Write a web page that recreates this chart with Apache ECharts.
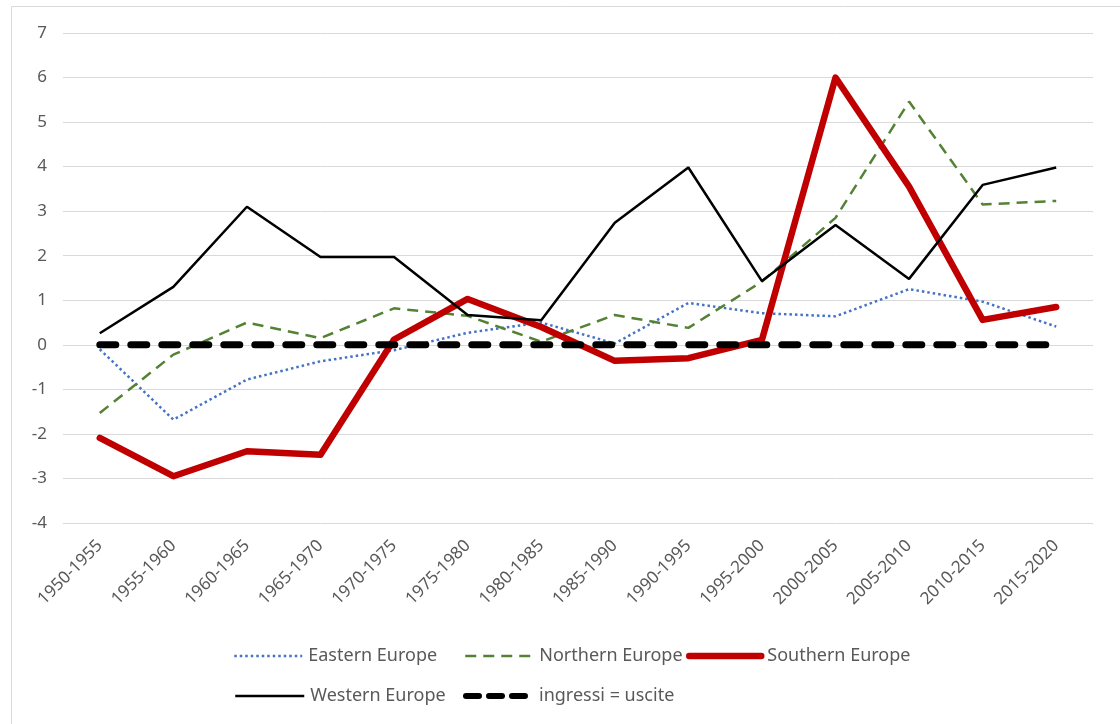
<!DOCTYPE html>
<html>
<head>
<meta charset="utf-8">
<script src="https://cdn.jsdelivr.net/npm/echarts@6/dist/echarts.min.js"></script>
<style>html,body{margin:0;padding:0;background:#fff;}#c{width:1120px;height:724px;}</style>
</head>
<body>
<div id="c"></div>
<script>
const categories = ['1950-1955','1955-1960','1960-1965','1965-1970','1970-1975','1975-1980','1980-1985','1985-1990','1990-1995','1995-2000','2000-2005','2005-2010','2010-2015','2015-2020'];
const eastern  = [-0.10, -1.68, -0.78, -0.37, -0.12, 0.27, 0.50, 0.03, 0.94, 0.71, 0.64, 1.25, 0.97, 0.41];
const northern = [-1.53, -0.22, 0.50, 0.15, 0.82, 0.65, 0.07, 0.67, 0.38, 1.42, 2.85, 5.46, 3.15, 3.23];
const southern = [-2.09, -2.95, -2.39, -2.47, 0.12, 1.03, 0.40, -0.36, -0.30, 0.11, 6.00, 3.55, 0.56, 0.85];
const western  = [0.26, 1.30, 3.10, 1.97, 1.97, 0.67, 0.55, 2.74, 3.98, 1.43, 2.69, 1.48, 3.59, 3.98];
const balance  = [0, 0, 0, 0, 0, 0, 0, 0, 0, 0, 0, 0, 0, 0];
const seriesNames = ['Eastern Europe', 'Northern Europe', 'Southern Europe', 'Western Europe', 'ingressi = uscite'];

const FONT = 'Noto Sans';
const TXT = '#595959';
const chart = echarts.init(document.getElementById('c'), null, {renderer: 'canvas'});

function legendAt(name, left, top, width, lineStyle) {
  return {
    data: [name], left: left, top: top, orient: 'horizontal',
    itemWidth: width, itemHeight: 14, itemGap: 0, padding: 0,
    itemStyle: {opacity: 0},
    lineStyle: lineStyle,
    textStyle: {fontFamily: FONT, fontSize: 18, color: TXT, padding: [0, 0, 0, 1]},
    selectedMode: false
  };
}

chart.setOption({
  animation: false,
  backgroundColor: '#fff',
  graphic: [{
    type: 'rect', silent: true, z: -10,
    shape: {x: 11.5, y: 6.5, width: 1200, height: 800},
    style: {fill: 'none', stroke: '#D9D9D9', lineWidth: 1}
  }],
  grid: {left: 63, right: 27, top: 33, bottom: 201, containLabel: false},
  legend: [
    legendAt(seriesNames[0], 233, 647, 68, {width: 2.5, type: [2.5, 3]}),
    legendAt(seriesNames[1], 464, 647, 68, {width: 2.5, type: [11, 7]}),
    legendAt(seriesNames[2], 686, 647, 72, {width: 6.5, cap: 'round'}),
    legendAt(seriesNames[3], 234, 687, 69, {width: 2.5}),
    legendAt(seriesNames[4], 463, 687, 67, {width: 6, type: [13, 10], cap: 'round'})
  ],
  xAxis: {
    type: 'category', data: categories, boundaryGap: true,
    axisLine: {show: false}, axisTick: {show: false},
    axisLabel: {rotate: 45, margin: 20, interval: 0, fontFamily: FONT, fontSize: 17, color: TXT}
  },
  yAxis: {
    type: 'value', min: -4, max: 7, interval: 1,
    axisLine: {show: false}, axisTick: {show: false},
    splitLine: {lineStyle: {color: '#D9D9D9', width: 1}},
    axisLabel: {margin: 16, fontFamily: FONT, fontSize: 17, color: TXT}
  },
  series: [
    {name: seriesNames[0], type: 'line', data: eastern, symbol: 'none',
     lineStyle: {color: '#4472C4', width: 2.5, type: [2.5, 3], cap: 'butt'}, itemStyle: {color: '#4472C4'}},
    {name: seriesNames[1], type: 'line', data: northern, symbol: 'none',
     lineStyle: {color: '#548235', width: 2.5, type: [11, 7]}, itemStyle: {color: '#548235'}},
    {name: seriesNames[2], type: 'line', data: southern, symbol: 'none',
     lineStyle: {color: '#C00000', width: 6.5, cap: 'round', join: 'round'}, itemStyle: {color: '#C00000'}},
    {name: seriesNames[3], type: 'line', data: western, symbol: 'none',
     lineStyle: {color: '#000000', width: 2.5}, itemStyle: {color: '#000000'}},
    {name: seriesNames[4], type: 'line', data: balance, symbol: 'none',
     lineStyle: {color: '#000000', width: 7, type: [16, 15], cap: 'round'}, itemStyle: {color: '#000000'}}
  ]
});
</script>
</body>
</html>
